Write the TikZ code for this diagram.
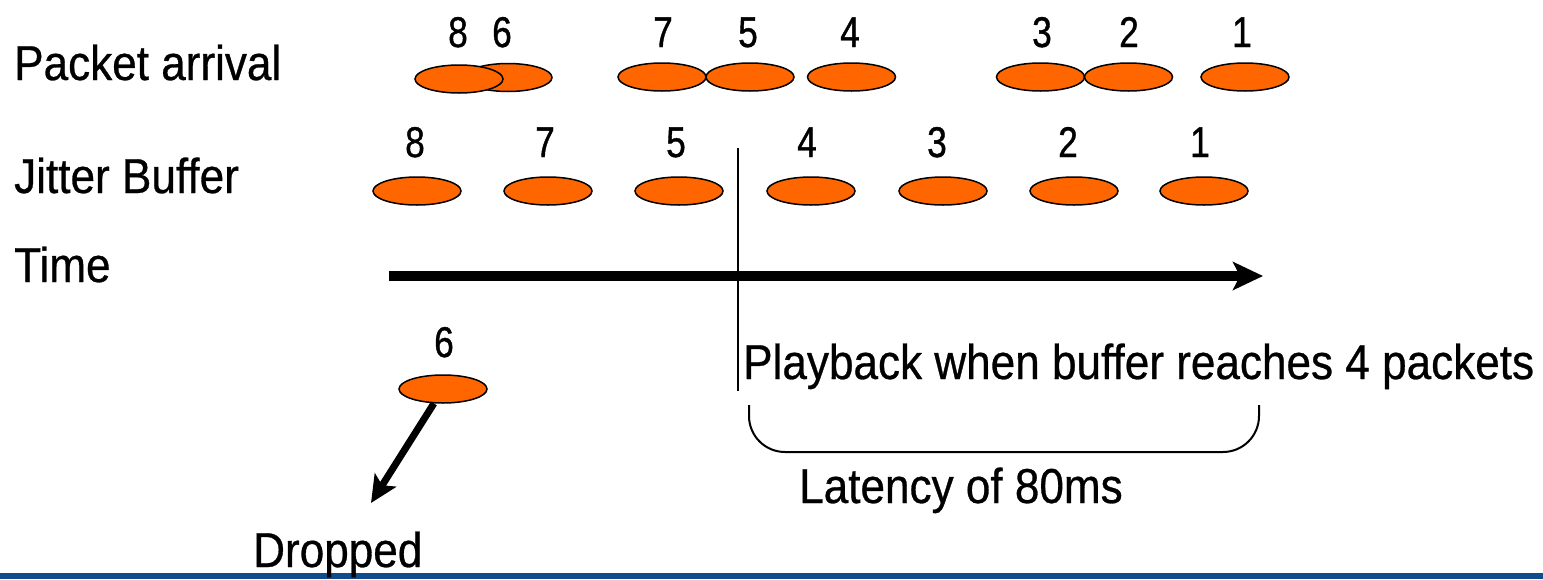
\documentclass[tikz,border=0pt]{standalone}
\usepackage{fontspec}
\setmainfont[FakeStretch=0.9,FakeBold=0.6]{Liberation Sans}
\newfontfamily\numfont[FakeStretch=0.82,FakeBold=0.9]{Liberation Sans}
\usetikzlibrary{shapes.geometric,arrows.meta}
\definecolor{pkt}{RGB}{255,102,0}
\definecolor{barblue}{RGB}{16,76,140}
\tikzset{
  pktshape/.style={ellipse,draw=black,line width=1.5pt,fill=pkt,minimum width=88pt,minimum height=28pt,inner sep=0pt},
  num/.style={anchor=base,inner sep=0pt,font=\numfont\fontsize{43}{50}\selectfont},
  lbl/.style={anchor=base west,inner sep=0pt,font=\fontsize{49}{58}\selectfont},
}
\begin{document}
\begin{tikzpicture}[x=1pt,y=-1pt]
\useasboundingbox (0,0) rectangle (1543,579);
% bottom rule
\fill[barblue] (0,573) rectangle (1543,579);

% row labels
\node[lbl] (tPA) at (14,80) {Packet arrival};
\node[lbl] (tJB) at (14,193) {Jitter Buffer};
\node[lbl] (tTime) at (14,282) {Time};

% packet arrival order
\node[pktshape] (a6) at (508,77.5) {};
\node[pktshape] (a8) at (459,79) {};
\node[pktshape] (a7) at (662,77) {};
\node[pktshape] (a5) at (750,77) {};
\node[pktshape] (a4) at (851.5,77) {};
\node[pktshape] (a3) at (1040.5,77) {};
\node[pktshape] (a2) at (1128.5,77) {};
\node[pktshape] (a1) at (1245,77) {};
\node[num] (na8) at (458,47) {8};
\node[num] (na6) at (502,47) {6};
\node[num] (na7) at (663,47) {7};
\node[num] (na5) at (748,47) {5};
\node[num] (na4) at (850,47) {4};
\node[num] (na3) at (1042,47) {3};
\node[num] (na2) at (1129,47) {2};
\node[num] (na1) at (1242,47) {1};

% jitter buffer order
\node[pktshape] (b8) at (417,191) {};
\node[pktshape] (b7) at (548,191) {};
\node[pktshape] (b5) at (679,191) {};
\node[pktshape] (b4) at (811,191) {};
\node[pktshape] (b3) at (943,191) {};
\node[pktshape] (b2) at (1074,191) {};
\node[pktshape] (b1) at (1204,191) {};
\node[num] (nb8) at (415,157) {8};
\node[num] (nb7) at (545,157) {7};
\node[num] (nb5) at (676,157) {5};
\node[num] (nb4) at (807,157) {4};
\node[num] (nb3) at (937,157) {3};
\node[num] (nb2) at (1068,157) {2};
\node[num] (nb1) at (1200,157) {1};

% time axis
\coordinate (t0) at (389,276);
\coordinate (t1) at (1263,276);
\draw[line width=10pt,-{Stealth[length=30pt,width=28pt,inset=7pt]}] (t0) -- (t1);

% playback start marker
\coordinate (m0) at (738,148);
\coordinate (m1) at (738,391);
\draw[line width=2pt] (m0) -- (m1);
\node[lbl] (tPlay) at (743,379) {Playback when buffer reaches 4 packets};

% latency bracket
\coordinate (brL) at (749,405);
\coordinate (brR) at (1259,405);
\draw[line width=2pt,rounded corners=36pt] (brL) -- (749,452) -- (1259,452) -- (brR);
\node[lbl] (tLat) at (799,503) {Latency of 80ms};

% dropped packet
\node[pktshape] (d6) at (443,389) {};
\node[num] (nd6) at (444,357) {6};
\coordinate (dtip) at (371,503);
\draw[line width=7pt,-{Stealth[length=27pt,width=25pt,inset=6pt]}] (d6) -- (dtip);
\node[lbl] (tDrop) at (253,567) {Dropped};
\end{tikzpicture}
\end{document}
